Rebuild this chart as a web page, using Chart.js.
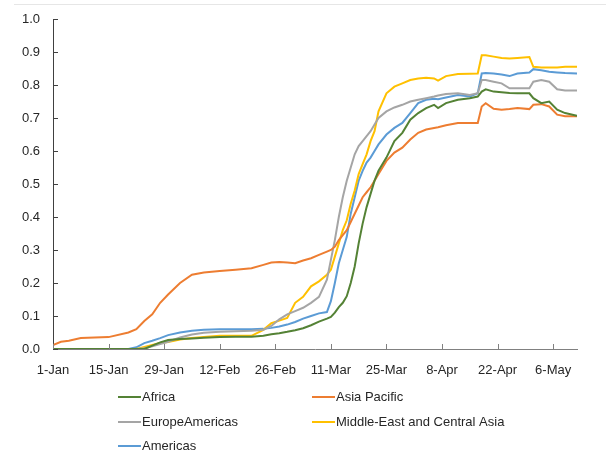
<!DOCTYPE html>
<html>
<head>
<meta charset="utf-8">
<script src="https://cdn.jsdelivr.net/npm/chart.js@4.4.1/dist/chart.umd.min.js"></script>
<style>
  html, body { margin: 0; padding: 0; background: #fff; }
  #wrap { position: relative; width: 606px; height: 463px; }
  #frame { position: absolute; left: 14px; top: 4px; right: 0; height: 1px; background: #e6e6e6; }
</style>
</head>
<body>
<div id="wrap">
  <div id="frame"></div>
  <canvas id="chart" width="606" height="463"></canvas>
</div>
<script>
// days since 1-Jan 2020
const days = [0, 2, 4, 7, 14, 19, 21, 23, 25, 27, 29, 32, 35, 38, 42, 46, 50, 53, 55, 57, 59, 61, 63, 65, 67, 69, 70, 71, 72, 73, 74, 75, 76, 77, 78, 79, 80, 81, 82, 84, 86, 88, 90, 92, 94, 96, 97, 99, 102, 105, 107, 108, 109, 111, 113, 115, 117, 120, 121, 123, 125, 127, 129, 132];
const xTickLabels = ['1-Jan', '15-Jan', '29-Jan', '12-Feb', '26-Feb', '11-Mar', '25-Mar', '8-Apr', '22-Apr', '6-May'];

const africa = [0, 0, 0, 0, 0, 0, 0, 0, 0.01, 0.02, 0.027, 0.03, 0.032, 0.034, 0.036, 0.037, 0.037, 0.04, 0.045, 0.048, 0.052, 0.057, 0.063, 0.072, 0.083, 0.092, 0.097, 0.11, 0.127, 0.14, 0.16, 0.2, 0.25, 0.32, 0.38, 0.43, 0.47, 0.51, 0.54, 0.58, 0.63, 0.655, 0.695, 0.715, 0.73, 0.74, 0.73, 0.745, 0.755, 0.76, 0.765, 0.78, 0.787, 0.78, 0.778, 0.776, 0.775, 0.775, 0.76, 0.745, 0.75, 0.725, 0.715, 0.707];
const asiaPacific = [0.012, 0.022, 0.025, 0.033, 0.036, 0.05, 0.06, 0.085, 0.105, 0.14, 0.165, 0.2, 0.225, 0.232, 0.236, 0.24, 0.245, 0.255, 0.262, 0.264, 0.262, 0.26, 0.268, 0.275, 0.285, 0.295, 0.3, 0.31, 0.33, 0.345, 0.36, 0.385, 0.41, 0.435, 0.46, 0.475, 0.49, 0.51, 0.53, 0.57, 0.595, 0.61, 0.635, 0.655, 0.665, 0.67, 0.672, 0.678, 0.685, 0.685, 0.685, 0.735, 0.745, 0.728, 0.725, 0.727, 0.73, 0.727, 0.74, 0.742, 0.735, 0.71, 0.705, 0.705];
const europeAmericas = [0, 0, 0, 0, 0, 0, 0, 0.002, 0.008, 0.015, 0.022, 0.035, 0.044, 0.049, 0.052, 0.054, 0.055, 0.058, 0.07, 0.09, 0.105, 0.115, 0.125, 0.14, 0.158, 0.21, 0.27, 0.33, 0.4, 0.46, 0.51, 0.55, 0.59, 0.615, 0.63, 0.645, 0.66, 0.68, 0.7, 0.72, 0.732, 0.74, 0.75, 0.755, 0.76, 0.765, 0.768, 0.773, 0.775, 0.77, 0.775, 0.815, 0.815, 0.81, 0.805, 0.79, 0.79, 0.79, 0.81, 0.815, 0.81, 0.787, 0.783, 0.783];
const middleEast = [0, 0, 0, 0, 0, 0, 0, 0.006, 0.012, 0.018, 0.021, 0.029, 0.033, 0.036, 0.04, 0.04, 0.04, 0.058, 0.078, 0.086, 0.094, 0.14, 0.158, 0.19, 0.205, 0.225, 0.24, 0.28, 0.32, 0.36, 0.39, 0.44, 0.48, 0.53, 0.56, 0.59, 0.63, 0.66, 0.72, 0.775, 0.795, 0.805, 0.815, 0.82, 0.822, 0.82, 0.813, 0.827, 0.833, 0.834, 0.835, 0.89, 0.89, 0.886, 0.882, 0.88, 0.882, 0.885, 0.855, 0.853, 0.853, 0.853, 0.855, 0.855];
const americas = [0, 0, 0, 0, 0, 0, 0.005, 0.018, 0.025, 0.033, 0.042, 0.05, 0.055, 0.058, 0.06, 0.06, 0.06, 0.061, 0.064, 0.068, 0.074, 0.082, 0.092, 0.1, 0.108, 0.112, 0.145, 0.2, 0.26, 0.3, 0.34, 0.41, 0.46, 0.51, 0.54, 0.565, 0.58, 0.6, 0.62, 0.65, 0.67, 0.685, 0.715, 0.745, 0.755, 0.758, 0.757, 0.762, 0.77, 0.765, 0.775, 0.835, 0.836, 0.835, 0.832, 0.827, 0.835, 0.838, 0.848, 0.845, 0.84, 0.838, 0.836, 0.835];

const seriesNames = ['Africa', 'Asia Pacific', 'EuropeAmericas', 'Middle-East and Central Asia', 'Americas'];
const seriesColors = ['#548235', '#ED7D31', '#A5A5A5', '#FFC000', '#5B9BD5'];
const seriesValues = [africa, asiaPacific, europeAmericas, middleEast, americas];

const FONT = '"Liberation Sans", Arial, sans-serif';

// Excel style tick marks pointing into the plot + two column legend
const excelBits = {
  id: 'excelBits',
  afterDraw(chart) {
    const ctx = chart.ctx;
    const xs = chart.scales.x, ys = chart.scales.y;
    const area = chart.chartArea;
    ctx.save();
    ctx.lineWidth = 1;
    ctx.strokeStyle = '#404040';
    ys.ticks.forEach(t => {
      const y = Math.round(ys.getPixelForValue(t.value)) + 0.5;
      ctx.beginPath(); ctx.moveTo(area.left, y); ctx.lineTo(area.left + 5, y); ctx.stroke();
    });
    ctx.strokeStyle = '#808080';
    xs.ticks.forEach(t => {
      const x = Math.round(xs.getPixelForValue(t.value)) + 0.5;
      ctx.beginPath(); ctx.moveTo(x, area.bottom); ctx.lineTo(x, area.bottom - 5); ctx.stroke();
    });

    const cols = [118, 312];
    const rows = [397, 422, 446];
    ctx.font = '13px ' + FONT;
    ctx.textBaseline = 'middle';
    ctx.fillStyle = '#262626';
    chart.data.datasets.forEach((ds, i) => {
      const x = cols[i % 2], y = rows[Math.floor(i / 2)];
      ctx.strokeStyle = ds.borderColor;
      ctx.lineWidth = 2;
      ctx.beginPath(); ctx.moveTo(x, y); ctx.lineTo(x + 23, y); ctx.stroke();
      ctx.fillText(ds.label, x + 24, y);
    });
    ctx.restore();
  }
};

new Chart(document.getElementById('chart'), {
  type: 'line',
  data: {
    datasets: seriesNames.map((name, i) => ({
      label: name,
      data: days.map((d, j) => ({ x: d, y: seriesValues[i][j] })),
      borderColor: seriesColors[i],
      borderWidth: 2,
      pointRadius: 0,
      tension: 0,
      fill: false
    }))
  },
  options: {
    responsive: false,
    animation: false,
    layout: { padding: { left: 0, top: 19, right: 29, bottom: 0 } },
    plugins: { legend: { display: false }, tooltip: { enabled: false } },
    scales: {
      x: {
        type: 'linear',
        min: 0,
        max: 132,
        grid: { display: false },
        border: { display: true, color: '#808080', width: 1 },
        ticks: {
          stepSize: 14,
          includeBounds: false,
          autoSkip: false,
          maxRotation: 0,
          padding: 6,
          color: '#262626',
          font: { family: FONT, size: 13 },
          callback: v => xTickLabels[v / 14]
        },
        afterFit: s => { s.height = 463 - 349; }
      },
      y: {
        min: 0,
        max: 1,
        grid: { display: false },
        border: { display: true, color: '#404040', width: 1 },
        ticks: {
          stepSize: 0.1,
          padding: 5,
          color: '#262626',
          font: { family: FONT, size: 13 },
          callback: v => v.toFixed(1)
        },
        afterFit: s => { s.width = 53; }
      }
    }
  },
  plugins: [excelBits]
});
</script>
</body>
</html>
